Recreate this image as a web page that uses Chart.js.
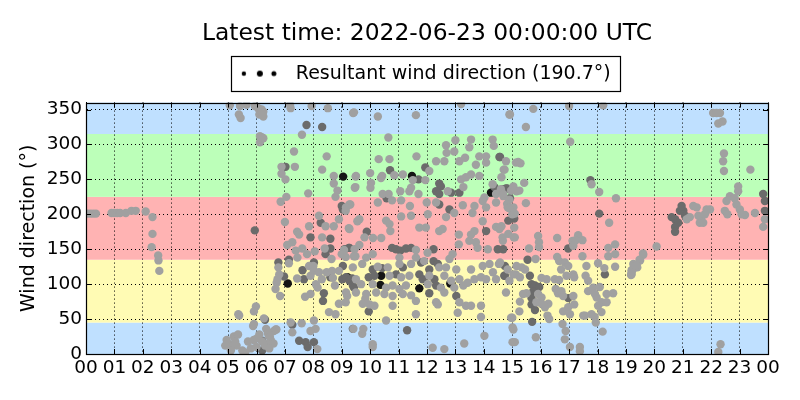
<!DOCTYPE html>
<html><head><meta charset="utf-8">
<script src="https://cdn.jsdelivr.net/npm/chart.js@4.4.0/dist/chart.umd.min.js"></script>
<style>html,body{margin:0;padding:0;background:#fff}#wrap{width:800px;height:400px}</style>
</head><body><div id="wrap"><canvas id="c" width="800" height="400"></canvas></div>
<script>
const titleText = 'Latest time: 2022-06-23 00:00:00 UTC';
const legendText = 'Resultant wind direction (190.7°)';
const yAxisTitle = 'Wind direction (°)';
const xTickValues = [0,1,2,3,4,5,6,7,8,9,10,11,12,13,14,15,16,17,18,19,20,21,22,23,24];
const xTickLabels = ['00','01','02','03','04','05','06','07','08','09','10','11','12','13','14','15','16','17','18','19','20','21','22','23','00'];
const yTickValues = [0,50,100,150,200,250,300,350];
const bandEdges = [0,45,135,225,315,360];
const bandColors = ['#bfe0ff','#fffbb4','#ffb3b3','#bcffb9','#bfe0ff'];

// light grey observations [hour, direction]
const lightPoints = [
[0.05,201],[0.15,201],[0.25,201],[0.35,201],[0.9,202],[1.0,202],[1.1,202],[1.2,202],[1.4,202],[1.6,205],[1.75,205],[2.1,204],[2.34,196],[2.34,172],[2.31,153],[2.54,141],[2.55,134],[2.58,119],
[5.06,356],[5.42,355],[5.38,343],[5.44,338],[5.65,357],[5.94,355],[6.06,352],[6.24,347],[6.24,340],[6.1,343],[6.12,312],[6.24,309],[6.12,303],[6.2,310],[6.18,350],
[5.39,55],[5.98,68],[5.91,61],[5.88,40],[5.36,57],[6.26,51],[5.91,43],[6.34,36],[6.61,33],[6.43,26],[6.38,14],
[5.0,15],[5.1,10],[5.2,25],[5.25,18],[5.3,12],[5.1,5],[5.5,5],[5.6,2],[5.8,8],[5.9,20],[6.0,22],[6.0,10],[6.1,28],[6.2,18],[6.3,12],[6.4,30],[6.5,20],[6.6,15],[6.7,35],[4.9,12],[4.95,20],[5.35,28],[5.7,18],[6.45,8],[6.68,35],[6.47,25],
[7.18,357],[7.2,352],[7.94,355],[8.51,352],[7.6,314],[9.4,345],[7.32,290],[6.88,268],[7.35,268],[6.88,258],[7.02,250],[8.47,283],[8.31,264],[8.72,255],[9.49,254],[8.72,244],[8.85,234],[7.82,230],[9.46,238],[7.05,225],[6.85,218],[8.78,225],[9.3,214],[9.14,205],[8.9,193],[8.2,198],[7.85,183],[8.43,183],[8.72,183],[9.25,180],[9.55,190],[7.0,189],[7.43,175],[7.5,171],[8.31,167],[7.26,160],[7.08,156],[7.61,151],[7.78,143],[8.05,147],[8.4,151],[8.64,136],[9.08,149],[9.14,139],[9.43,140],[7.38,148],[7.44,138],
[6.77,124],[7.14,130],[6.8,114],[6.74,107],[6.71,102],[6.67,93],[6.83,83],[7.43,108],[7.85,126],[8.0,126],[7.9,112],[8.02,119],[8.2,117],[8.3,107],[8.47,117],[8.66,119],[8.69,109],[8.09,100],[8.15,95],[7.9,86],[7.71,82],[8.9,119],[8.76,98],[8.9,72],[8.78,57],[8.55,60],[9.19,83],[9.14,74],
[7.2,45],[7.59,44],[7.26,31],[8.02,48],[8.08,36],[7.9,33],[8.14,7],
[9.43,346],[10.27,340],[11.61,342],[13.2,358],[14.9,343],[10.64,310],[13.55,307],[14.31,307],[14.35,298],[13.0,306],[12.67,299],[13.49,296],[12.69,288],[12.96,290],[11.63,283],[10.3,279],[10.68,279],[13.34,281],[13.84,283],[14.08,283],[12.32,276],[12.61,276],[12.08,262],[10.38,252],[10.85,256],[11.15,257],[11.94,249],[11.5,249],[13.14,276],[13.72,271],[13.55,257],[13.37,253],[13.2,250],[13.84,255],[14.08,274],[14.7,264],[14.78,276],[15.13,274],[9.5,255],[10.0,259],[10.42,255],[9.48,239],[10.03,245],[10.01,238],[12.73,233],[13.28,239],[11.38,233],[11.06,233],[11.44,238],[11.7,229],[10.65,229],[10.44,229],[14.31,243],[14.6,236],[14.96,234],[14.02,224],[14.43,229],[14.69,226],[14.9,221],
[9.27,214],[9.15,210],[10.27,217],[10.77,220],[11.09,220],[11.4,212],[11.99,217],[12.32,217],[12.96,202],[13.26,213],[13.67,212],[13.96,219],[14.08,210],[14.43,217],[14.84,210],[15.0,200],[9.62,193],[10.56,191],[11.09,197],[11.44,198],[12.03,200],[12.67,196],[13.6,202],[13.96,190],[10.68,186],[11.73,181],[11.96,181],[12.55,179],[12.43,176],[13.67,176],[14.43,182],[14.55,179],[15.07,181],[9.8,167],[9.27,179],[10.1,166],[10.39,166],[10.71,176],[13.12,171],[13.12,157],[13.49,162],[13.55,171],[13.72,160],[13.78,152],[14.14,150],[14.67,162],[15.05,167],[9.62,156],[9.45,150],[11.61,149],[12.02,145],[12.9,143],[9.0,143],[9.48,140],[9.86,138],[10.09,143],[11.03,138],[11.61,138],
[9.39,124],[9.72,129],[10.27,125],[10.62,124],[11.03,129],[11.44,129],[11.9,133],[12.43,124],[12.67,124],[13.03,121],[12.79,136],[13.55,121],[13.96,126],[14.2,129],[14.53,129],[14.32,117],[14.84,121],[15.13,114],[9.5,107],[10.68,112],[11.09,110],[11.38,112],[12.08,112],[12.61,112],[12.85,105],[13.14,107],[13.43,102],[13.67,107],[13.9,110],[14.08,107],[14.43,107],[14.9,105],[9.68,100],[10.09,100],[10.56,95],[10.79,98],[11.03,93],[11.26,98],[12.03,100],[12.49,95],[12.96,95],[13.28,98],[9.15,88],[9.5,88],[9.86,86],[10.21,88],[10.5,86],[10.79,83],[11.15,86],[11.44,84],[12.61,88],[9.83,79],[9.98,71],[9.74,72],[10.15,69],[10.79,69],[11.61,76],[12.32,74],[12.38,71],[13.14,74],[13.37,69],[13.55,69],[13.9,69],[11.61,57],[13.08,59],[13.9,53],[14.96,52],[10.56,48],
[9.41,36],[9.72,29],[9.76,36],[10.09,14],[10.09,10],[12.2,9],[12.61,7],[13.31,15],[14.02,26],[15.01,38],[15.01,17],
[14.92,343],[15.74,351],[15.48,325],[17.0,355],[18.2,356],[17.04,304],[15.21,275],[15.29,273],[14.73,264],[14.62,253],[15.42,245],[15.04,240],[15.15,233],[15.25,234],[17.79,243],[18.06,232],[14.68,229],[15.48,216],[18.65,223],[14.82,215],[15.04,210],[14.88,209],[15.09,201],[18.41,188],[14.62,183],[14.86,172],[15.09,167],[14.66,167],[15.91,169],[15.94,160],[15.59,151],[15.94,153],[16.58,166],[17.32,170],[17.12,162],[17.23,163],[17.47,163],[17.15,155],[18.38,152],[18.62,157],[17.47,140],[18.38,140],[18.62,143],[19.6,144],[19.48,135],
[15.82,136],[16.58,139],[16.65,133],[16.85,131],[16.97,126],[16.72,121],[14.57,131],[15.15,126],[15.33,124],[15.45,121],[15.04,114],[15.27,110],[16.03,109],[16.21,107],[16.5,107],[16.65,106],[17.15,114],[17.18,110],[16.91,112],[17.61,126],[17.58,112],[17.67,105],[18.02,130],[18.24,123],[18.62,125],[19.26,129],[19.2,120],[19.2,114],[19.4,124],[14.78,88],[15.91,86],[15.5,87],[15.38,86],[16.03,81],[15.85,74],[16.03,72],[16.27,72],[15.27,75],[15.25,61],[16.53,93],[16.61,87],[16.73,90],[16.79,83],[17.15,83],[17.18,71],[16.97,67],[16.79,61],[17.03,57],[16.15,67],[16.24,55],[16.3,50],[17.5,55],[17.56,55],[17.67,90],[17.85,95],[17.91,86],[18.08,96],[17.97,81],[18.14,74],[18.02,69],[18.32,86],[18.32,74],[18.55,87],[17.79,57],[17.9,53],[18.14,60],[15.0,52],[17.94,45],
[15.04,35],[15.09,17],[15.83,24],[16.77,43],[16.88,33],[16.85,21],[17.03,10],[17.38,10],[17.38,4],[18.18,32],
[20.08,154],[19.61,142],[19.5,134],[19.38,128],[19.26,122],[19.2,117],[19.18,113],[21.14,193],[21.25,196],[21.37,212],[21.49,210],[21.55,198],[21.6,188],[21.66,196],[21.78,200],[21.96,207],[21.84,207],[21.72,188],[22.54,219],[22.66,226],[22.83,223],[22.48,205],[22.57,200],[22.89,214],[22.95,233],[22.95,240],[23.01,207],[23.07,200],[23.19,199],[23.54,202],[23.89,193],[23.83,182],[23.38,264],[22.45,287],[22.42,276],[22.45,262],[22.07,345],[22.19,345],[22.31,345],[22.25,330],[22.4,333],[22.33,14],[22.25,3]
];

// darker grey observations [hour, direction]
const darkPoints = [
[6.3,49],[5.94,177],[6.2,19],[6.2,5],
[7.76,328],[8.31,325],[7.02,268],[9.0,212],[8.26,188],[7.9,167],[8.6,165],[8.6,151],[8.43,143],[9.25,152],[6.77,131],[7.14,135],[6.97,111],[7.62,120],[7.67,107],[8.02,131],[8.6,110],[8.37,87],[8.34,76],[9.02,107],[9.37,108],[9.43,95],[7.26,42],[7.5,19],[7.73,17],[7.8,10],[8.02,17],[9.39,36],
[14.55,282],[11.94,267],[10.7,263],[11.7,250],[12.43,244],[12.49,240],[12.32,233],[12.43,229],[12.85,231],[13.14,231],[14.37,239],[14.78,237],[10.58,223],[9.04,207],[12.43,214],[12.79,207],[15.07,194],[14.08,176],[9.88,175],[14.49,150],[9.27,152],[9.1,150],[10.77,152],[10.91,150],[11.06,148],[11.26,151],[11.44,152],[12.23,150],[9.04,126],[10.09,121],[10.42,123],[11.15,124],[11.79,131],[12.23,133],[12.38,129],[12.08,121],[14.72,112],[9.15,110],[9.27,105],[9.95,110],[10.15,112],[10.91,114],[11.73,114],[11.85,107],[12.26,107],[9.39,98],[12.32,98],[12.08,87],[13.03,83],[9.95,61],[11.3,34],
[14.57,282],[14.82,237],[14.66,236],[17.75,249],[14.92,223],[18.06,201],[14.86,191],[16.97,151],[14.68,150],[15.54,135],[14.74,126],[15.62,112],[18.26,114],[15.68,100],[15.8,98],[15.95,96],[15.74,90],[15.68,80],[15.68,71],[15.8,63],[16.97,80],[15.7,46],[14.74,112],
[20.61,196],[20.73,193],[20.84,188],[21.02,205],[21.08,198],[20.73,182],[20.73,175],[20.9,205],[20.96,212],[23.83,229],[23.89,219],[23.89,205]
];

// resultant wind direction points [hour, direction]
const resultantPoints = [
[9.05,254],[7.1,101],[9.2,110],[11.47,255],[14.25,231],[10.39,112],[10.36,99],[11.73,94],[12.82,101]
];

const FONT = 'DejaVu Sans';
const toXY = arr => arr.map(p => ({x: p[0], y: p[1]}));

const marker = document.createElement('canvas');
marker.width = 40; marker.height = 10;
(function(){
  const m = marker.getContext('2d');
  m.fillStyle = '#000';
  [[5,2.2],[21,3.0],[35,2.5]].forEach(d => { m.beginPath(); m.arc(d[0], 5, d[1], 0, Math.PI*2); m.fill(); });
})();

const plotPlugin = {
  id: 'plotPlugin',
  beforeLayout(chart) {
    const lg = chart.legend;
    if (lg && !lg._fitPatched) {
      const orig = lg.fit;
      lg.fit = function() { orig.call(this); this.height += 9.5; };
      lg._fitPatched = true;
    }
  },
  afterLayout(chart) {
    const a = chart.chartArea;
    if (chart.titleBlock) { chart.titleBlock.left = a.left; chart.titleBlock.right = a.right; }
    const lg = chart.legend;
    if (lg) { lg.left = a.left - 6; lg.right = a.right - 6; lg.adjustHitBoxes(); }
  },
  beforeDraw(chart) {
    const a = chart.chartArea, ys = chart.scales.y, ctx = chart.ctx;
    ctx.save();
    for (let i = 0; i < bandColors.length; i++) {
      const y1 = ys.getPixelForValue(bandEdges[i]);
      const y2 = ys.getPixelForValue(bandEdges[i+1]);
      ctx.fillStyle = bandColors[i];
      ctx.fillRect(a.left, y2, a.right - a.left, y1 - y2);
    }
    ctx.restore();
  },
  afterDatasetsDraw(chart) {
    const a = chart.chartArea, ctx = chart.ctx, xs = chart.scales.x, ys = chart.scales.y;
    ctx.save();
    ctx.strokeStyle = '#000';
    ctx.lineWidth = 1;
    ctx.beginPath();
    xTickValues.forEach(v => {
      const px = Math.round(xs.getPixelForValue(v)) + 0.5;
      ctx.moveTo(px, a.bottom); ctx.lineTo(px, a.bottom - 5);
      ctx.moveTo(px, a.top); ctx.lineTo(px, a.top + 5);
    });
    yTickValues.forEach(v => {
      const py = Math.round(ys.getPixelForValue(v)) + 0.5;
      ctx.moveTo(a.left, py); ctx.lineTo(a.left + 5, py);
      ctx.moveTo(a.right, py); ctx.lineTo(a.right - 5, py);
    });
    ctx.stroke();
    ctx.lineWidth = 1.2;
    ctx.strokeRect(Math.round(a.left) + 0.5, Math.round(a.top) + 0.5, Math.round(a.right - a.left), Math.round(a.bottom - a.top));
    ctx.restore();
  },
  afterDraw(chart) {
    const lg = chart.legend;
    if (!lg || !lg.legendHitBoxes || !lg.legendHitBoxes.length) return;
    const hb = lg.legendHitBoxes[0];
    const cy = lg.top + 8 + 9.5;
    const ctx = chart.ctx;
    ctx.save();
    ctx.strokeStyle = '#000';
    ctx.lineWidth = 1.2;
    const l = Math.round(hb.left - 0.5) + 0.5;
    const r = Math.round(hb.left + hb.width + 9) + 0.5;
    const t = Math.round(cy - 18) + 0.5;
    const b = Math.round(cy + 17.5) + 0.5;
    ctx.strokeRect(l, t, r - l, b - t);
    ctx.restore();
  }
};

const gridCommon = { color: '#000', lineWidth: 1, drawTicks: false };

new Chart(document.getElementById('c'), {
  type: 'scatter',
  data: {
    datasets: [
      { label: 'Observed (older)', data: toXY(lightPoints), backgroundColor: '#a0a0a0', pointRadius: 4.2, pointBorderWidth: 0, borderWidth: 0, clip: 0 },
      { label: 'Observed (recent)', data: toXY(darkPoints), backgroundColor: '#6b6b6b', pointRadius: 4.2, pointBorderWidth: 0, borderWidth: 0, clip: 0 },
      { label: legendText, data: toXY(resultantPoints), backgroundColor: '#151515', pointRadius: 4.2, pointBorderWidth: 0, borderWidth: 0, clip: 0 }
    ]
  },
  options: {
    responsive: false,
    animation: false,
    layout: { padding: { left: 0, right: 32, top: 0, bottom: 0 } },
    plugins: {
      tooltip: { enabled: false },
      title: {
        display: true, text: titleText, color: '#000',
        font: { family: FONT, size: 23.4, weight: 'normal' },
        padding: { top: 20, bottom: 8 }
      },
      legend: {
        display: true, position: 'top',
        labels: {
          color: '#000', font: { family: FONT, size: 19 }, padding: 8,
          usePointStyle: true, pointStyleWidth: 55,
          generateLabels: () => [{ text: legendText, pointStyle: marker, fillStyle: '#000', strokeStyle: '#000', lineWidth: 0, hidden: false, datasetIndex: 2, fontColor: '#000' }]
        }
      }
    },
    scales: {
      x: {
        type: 'linear', min: 0, max: 24,
        grid: gridCommon,
        border: { display: true, color: '#000', width: 1, dash: [1, 3] },
        afterBuildTicks: s => { s.ticks = xTickValues.map(v => ({ value: v })); },
        afterFit: s => { s.height = 46; s.paddingLeft = 0; s.paddingRight = 0; },
        ticks: {
          autoSkip: false, maxRotation: 0, minRotation: 0, padding: 3, color: '#000',
          font: { family: FONT, size: 18.5 },
          callback: (v, i) => xTickLabels[i]
        }
      },
      y: {
        type: 'linear', min: 0, max: 360,
        grid: gridCommon,
        border: { display: true, color: '#000', width: 1, dash: [1, 3] },
        afterBuildTicks: s => { s.ticks = yTickValues.map(v => ({ value: v })); },
        afterFit: s => { s.width = 86; s.paddingTop = 0; s.paddingBottom = 0; },
        title: { display: true, text: yAxisTitle, color: '#000', font: { family: FONT, size: 19 }, padding: { top: 17.5, bottom: 0 } },
        ticks: { padding: 4, color: '#000', font: { family: FONT, size: 18.5 }, callback: v => String(v) }
      }
    }
  },
  plugins: [plotPlugin]
});
</script>
</body></html>
